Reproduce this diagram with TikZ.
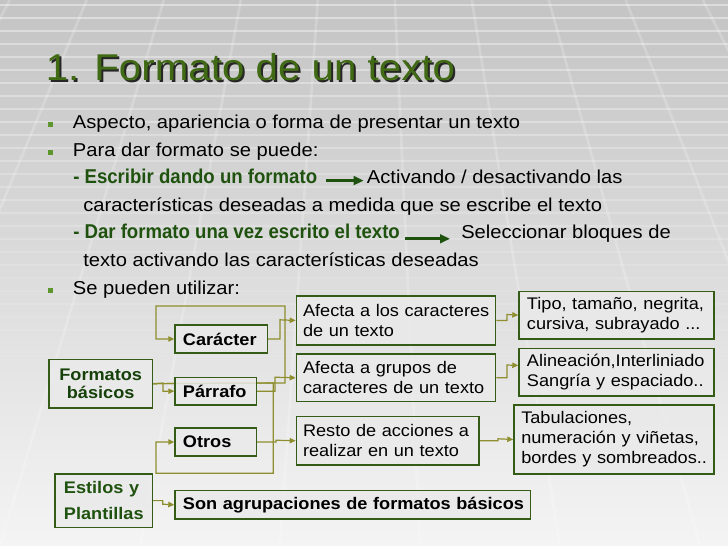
\documentclass[tikz,border=0pt]{standalone}
\usepackage{fontspec}
\setmainfont[FakeStretch=1.08]{Liberation Sans}
\newfontfamily\greenfam[FakeStretch=0.93]{Liberation Sans}
\usetikzlibrary{arrows.meta,calc}
\pgfdeclarelayer{bglayer}
\pgfdeclarelayer{lineslayer}
\pgfsetlayers{bglayer,lineslayer,main}
\definecolor{titlegreen}{RGB}{64,106,20}
\definecolor{boldgreen}{RGB}{30,82,14}
\definecolor{darkgreentext}{RGB}{22,64,10}
\definecolor{boxedge}{RGB}{52,92,22}
\definecolor{conncol}{RGB}{142,142,46}
\definecolor{bulletgreen}{RGB}{92,150,44}
\definecolor{bgtop}{RGB}{196,196,196}
\definecolor{bgmid}{RGB}{222,222,222}
\definecolor{bgbot}{RGB}{244,244,244}
\definecolor{boxfill}{RGB}{234,234,234}
\newcommand{\bodyfont}{\fontsize{14pt}{16.8pt}\selectfont}
\newcommand{\greenbold}{\greenfam\fontsize{15pt}{17pt}\selectfont\bfseries\color{boldgreen}}
\newcommand{\titlefont}{\fontsize{28pt}{32pt}\selectfont}
\newcommand{\boxfont}{\fontsize{12.6pt}{15pt}\selectfont}
\tikzset{
  bodytext/.style={anchor=base west, inner sep=0pt, font=\bodyfont},
  box/.style={draw=boxedge, line width=1pt, fill=boxfill, fill opacity=0.85, text opacity=1,
    anchor=north west, inner xsep=5pt, inner ysep=0pt, align=left, font=\boxfont},
  boldbox/.style={box, font=\boxfont\bfseries},
  conn/.style={draw=conncol, line width=0.9pt, -{Triangle[length=4.5pt,width=4pt]}},
  textarrow/.style={draw=boldgreen, line width=2.3pt, -{Triangle[length=7.5pt,width=6.5pt]}},
  bulletsq/.style={fill=bulletgreen}
}
\begin{document}
\begin{tikzpicture}[x=0.75pt,y=-0.75pt]
\useasboundingbox (0,0) rectangle (728,546);
\begin{pgfonlayer}{bglayer}
  \shade[top color=bgtop, middle color=bgmid, bottom color=bgbot] (0,0) rectangle (728,546);
  \foreach \i in {0,...,30} {
    \draw[white, line width=1.1pt, opacity={max(0.42-\i*0.014,0)}] (0,5+13*\i) -- (728,5+13*\i);
  }
  \foreach \xt in {-700,-560,-420,-280,-140,0,140,280,420,560,700,840,980,1120,1260,1400} {
    \draw[white, line width=2pt, opacity=0.2] ({364+(\xt-364)*0.55},0) -- (\xt,546);
  }
\end{pgfonlayer}

% title
\node[anchor=base west, inner sep=0pt, font=\titlefont, text=black!85] (titleshadow) at (47.5,82.5) {1. Formato de un texto};
\node[anchor=base west, inner sep=0pt, font=\titlefont, text=titlegreen] (title) at (45.5,80.5) {1. Formato de un texto};

% bullets
\fill[bulletsq] (47.8,122) rectangle (52.6,127.3);
\fill[bulletsq] (47.8,149.7) rectangle (52.6,155);
\fill[bulletsq] (47.8,287.7) rectangle (52.6,293);

% body text
\node[bodytext] (l1) at (72.7,128.3) {Aspecto, apariencia o forma de presentar un texto};
\node[bodytext] (l2) at (72.7,156) {Para dar formato se puede:};
\node[bodytext, font=\greenbold] (esc) at (73,183.6) {- Escribir dando un formato};
\node[bodytext] (act) at (366.7,183.6) {Activando / desactivando las};
\node[bodytext] (l4) at (83,211.2) {características deseadas a medida que se escribe el texto};
\node[bodytext, font=\greenbold] (dar) at (73,238.8) {- Dar formato una vez escrito el texto};
\node[bodytext] (sel) at (461,238.8) {Seleccionar bloques de};
\node[bodytext] (l6) at (83,266.4) {texto activando las características deseadas};
\node[bodytext] (l7) at (72.7,294) {Se pueden utilizar:};

\draw[textarrow] ($(esc.base east)+(9,-3)$) -- ($(act.base west)+(-3,-3)$);
\draw[textarrow] ($(dar.base east)+(5,0)$) -- ($(sel.base west)+(-11,0)$);

% diagram boxes
\node[box, align=center, inner xsep=0pt, minimum width=77.55pt, minimum height=36.45pt,
  font=\boxfont\bfseries\color{darkgreentext}, text=darkgreentext] (fb) at (48.3,358.7)
  {\mbox{Formatos}\\[-1.5pt]\mbox{básicos}};
\node[boldbox, inner xsep=6pt, text width=57.3pt, minimum height=21pt] (car) at (174.3,324.3) {\mbox{Carácter}};
\node[boldbox, inner xsep=6pt, text width=49pt, minimum height=20.7pt] (par) at (174.3,376.7) {\mbox{Párrafo}};
\node[boldbox, inner xsep=6pt, text width=49pt, minimum height=21pt] (otr) at (174.3,427.3) {\mbox{Otros}};
\node[box, inner xsep=6.75pt, text width=59.5pt, minimum height=40pt,
  font=\boxfont\bfseries\color{boldgreen}, text=boldgreen] (est) at (54.3,473.3)
  {\mbox{Estilos y}\\[4.5pt]\mbox{Plantillas}};
\node[boldbox, inner xsep=6pt, text width=254.8pt, minimum height=21.2pt] (son) at (174.3,490)
  {\mbox{Son agrupaciones de formatos básicos}};

\node[box, text width=139.5pt, minimum height=36.75pt] (af1) at (295.7,295.3)
  {\mbox{Afecta a los caracteres}\\\mbox{de un texto}};
\node[box, text width=139.5pt, minimum height=35.8pt] (af2) at (295.7,353.3)
  {\mbox{Afecta a grupos de}\\\mbox{caracteres de un texto}};
\node[box, text width=127pt, minimum height=36.2pt] (resto) at (295.7,416)
  {\mbox{Resto de acciones a}\\\mbox{realizar en un texto}};
\node[box, inner xsep=6pt, text width=134.25pt, minimum height=35.7pt] (tipo) at (518.3,290.7)
  {\mbox{Tipo, tamaño, negrita,}\\\mbox{cursiva, subrayado ...}};
\node[box, inner xsep=6pt, text width=134.25pt, minimum height=35.7pt] (alin) at (518.3,347.7)
  {\mbox{Alineación,Interliniado}\\\mbox{Sangría y espaciado..}};
\node[box, inner xsep=5.5pt, text width=139pt, minimum height=51.75pt] (tab) at (513.3,404.3)
  {\mbox{Tabulaciones,}\\\mbox{numeración y viñetas,}\\\mbox{bordes y sombreados..}};

% connectors
\begin{pgfonlayer}{lineslayer}
  \draw[conn] (fb.east) -- (285,383) -- (285,306) -- (156,306) |- (car.west);
  \draw[conn] (fb.east) -- (163,383) |- (par.west);
  \draw[conn] (fb.east) -- (273.3,383) -- (273.3,473.3) -- (156,473.3) |- (otr.west);
  \draw[conn] (car.east) -| (280,319.8) -- (af1.west);
  \draw[conn] (par.east) -| (275,377.2) -- (af2.west);
  \draw[conn] (otr.east) -| (276,440.2) -- (resto.west);
  \draw[conn] (af1.east) -| (507,314.5) -- (tipo.west);
  \draw[conn] (af2.east) -| (507,365) -- ($(alin.north west)!0.363!(alin.south west)$);
  \draw[conn] (resto.east) -| (498,438.8) -- (tab.west);
  \draw[conn] (est.east) -| (162.7,504.2) -- (son.west);
\end{pgfonlayer}
\end{tikzpicture}
\end{document}
